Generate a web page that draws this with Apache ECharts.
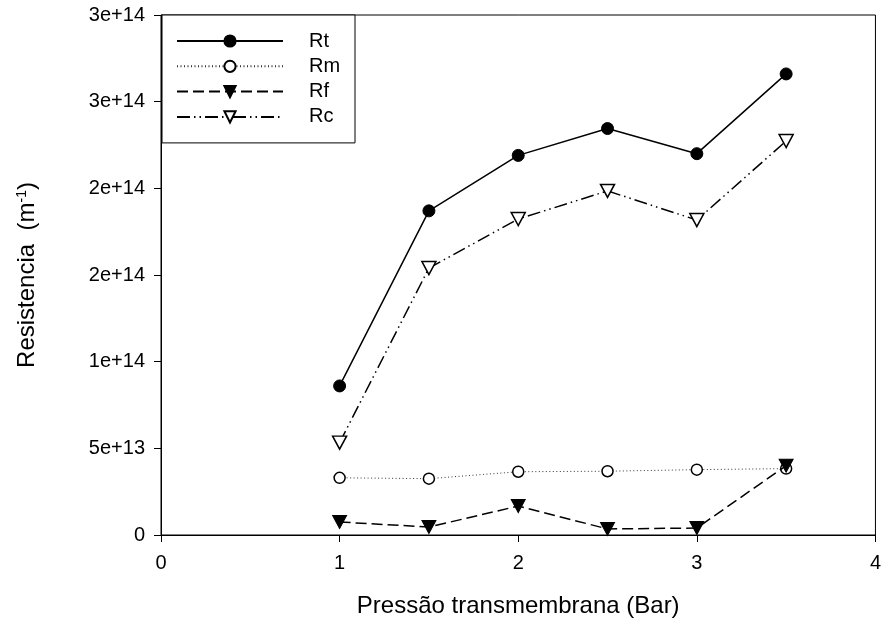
<!DOCTYPE html>
<html>
<head>
<meta charset="utf-8">
<script src="https://cdn.jsdelivr.net/npm/echarts@6/dist/echarts.min.js"></script>
<style>
  html, body { margin: 0; padding: 0; background: #fff; }
  #chart { width: 884px; height: 623px; }
</style>
</head>
<body>
<div id="chart"></div>
<script>
// Transmembrane pressure (bar)
const pressures = [1, 1.5, 2, 2.5, 3, 3.5];

// Resistances (m^-1)
const rt = [8.6e13, 1.87e14, 2.19e14, 2.345e14, 2.2e14, 2.66e14];
const rm = [3.3e13, 3.25e13, 3.65e13, 3.68e13, 3.77e13, 3.83e13];
const rf = [7.5e12, 4.6e12, 1.67e13, 3.5e12, 4.0e12, 4.0e13];
const rc = [5.33e13, 1.54e14, 1.823e14, 1.985e14, 1.817e14, 2.273e14];

// Axis tick labels
const xTickLabels = ['0', '1', '2', '3', '4'];
const yTickLabels = ['0', '5e+13', '1e+14', '2e+14', '2e+14', '3e+14', '3e+14'];

const FONT = '"Liberation Sans", Arial, sans-serif';
const pairs = (ys) => pressures.map((x, i) => [x, ys[i]]);

const chart = echarts.init(document.getElementById('chart'), null, { renderer: 'canvas' });

const baseSeries = {
  type: 'line',
  color: '#000',
  showAllSymbol: true,
  animation: false,
  z: 3
};

chart.setOption({
  backgroundColor: '#fff',
  animation: false,
  grid: {
    left: 161, right: 4, top: 15, bottom: 88,
    show: true, borderColor: '#000', borderWidth: 1, backgroundColor: 'transparent'
  },
  legend: {
    orient: 'vertical',
    left: 162, top: 15,
    padding: [16, 14, 16, 14],
    itemWidth: 106, itemHeight: 14, itemGap: 5.3,
    backgroundColor: '#fff',
    borderColor: '#000', borderWidth: 1,
    textStyle: { fontFamily: FONT, fontSize: 20, color: '#000', lineHeight: 20, padding: [0, 0, 0, 21], width: 32 },
    data: ['Rt', 'Rm', 'Rf', 'Rc']
  },
  xAxis: {
    type: 'value', min: 0, max: 4, interval: 1,
    name: 'Pressão transmembrana (Bar)',
    nameLocation: 'middle', nameGap: 59,
    nameTextStyle: { fontFamily: FONT, fontSize: 24, color: '#000' },
    axisLine: { lineStyle: { color: '#000', width: 1 } },
    axisTick: { inside: false, length: 7, lineStyle: { color: '#000' } },
    axisLabel: {
      fontFamily: FONT, fontSize: 20, color: '#000', margin: 18,
      formatter: (v) => xTickLabels[Math.round(v)]
    },
    splitLine: { show: false }
  },
  yAxis: {
    type: 'value', min: 0, max: 3e14, interval: 5e13,
    name: '{t|Resistencia  (m}{s|-1}{t|)}',
    nameLocation: 'middle', nameGap: 121, nameRotate: 90,
    nameTextStyle: {
      fontFamily: FONT, color: '#000',
      rich: {
        t: { fontFamily: FONT, fontSize: 24, color: '#000' },
        s: { fontFamily: FONT, fontSize: 14, color: '#000', verticalAlign: 'top', padding: [0, 0, 11, 0] }
      }
    },
    axisLine: { lineStyle: { color: '#000', width: 1 } },
    axisTick: { inside: false, length: 7, lineStyle: { color: '#000' } },
    axisLabel: {
      fontFamily: FONT, fontSize: 20, color: '#000', margin: 16,
      formatter: (v) => yTickLabels[Math.round(v / 5e13)]
    },
    splitLine: { show: false }
  },
  series: [
    Object.assign({}, baseSeries, {
      name: 'Rt', data: pairs(rt),
      symbol: 'circle', symbolSize: 12,
      lineStyle: { color: '#000', width: 1.5, type: 'solid' },
      itemStyle: { color: '#000', borderColor: '#000', borderWidth: 1 }
    }),
    Object.assign({}, baseSeries, {
      name: 'Rm', data: pairs(rm),
      symbol: 'circle', symbolSize: 11,
      lineStyle: { color: '#333', width: 1, type: [1, 2.5] },
      itemStyle: { color: '#fff', borderColor: '#000', borderWidth: 1.5 }
    }),
    Object.assign({}, baseSeries, {
      name: 'Rf', data: pairs(rf),
      symbol: 'triangle', symbolRotate: 180, symbolSize: [14, 13],
      lineStyle: { color: '#000', width: 1.5, type: [11, 5] },
      itemStyle: { color: '#000', borderColor: '#000', borderWidth: 1 },
      z: 4
    }),
    Object.assign({}, baseSeries, {
      name: 'Rc', data: pairs(rc),
      symbol: 'triangle', symbolRotate: 180, symbolSize: [14, 13],
      lineStyle: { color: '#000', width: 1.5, type: [13, 4, 1.5, 4, 1.5, 4] },
      itemStyle: { color: '#fff', borderColor: '#000', borderWidth: 1.5 }
    })
  ]
});
</script>
</body>
</html>
